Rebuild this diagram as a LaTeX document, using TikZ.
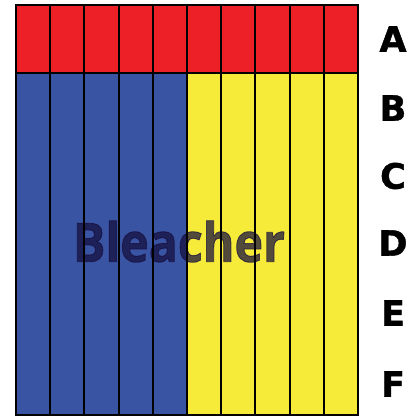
\documentclass[tikz,border=0pt]{standalone}
\usepackage{fontspec}
\setmainfont{DejaVu Sans}[BoldFeatures={FakeBold=1.2}]
\newfontfamily\bleachfont{Open Sans}[BoldFeatures={FakeBold=1.6}]
\definecolor{seatred}{RGB}{237,31,39}
\definecolor{seatblue}{RGB}{58,84,164}
\definecolor{seatyellow}{RGB}{246,235,56}
\definecolor{inkdark}{RGB}{20,12,60}
\begin{document}
\begin{tikzpicture}[x=1pt,y=1pt,
  cell/.style={draw=black,line width=2pt},
  rowlabel/.style={font=\fontsize{35}{35}\selectfont\bfseries,anchor=center}]
\useasboundingbox (0,0) rectangle (420,418);
% columns
\foreach \i in {0,...,9}{
  \pgfmathsetmacro{\xa}{16+34.2*\i}
  \pgfmathsetmacro{\xb}{16+34.2*(\i+1)}
  \fill[seatred] (\xa,345) rectangle (\xb,413);
  \ifnum\i<5
    \fill[seatblue] (\xa,3) rectangle (\xb,345);
  \else
    \fill[seatyellow] (\xa,3) rectangle (\xb,345);
  \fi
}
\node[text=inkdark,text opacity=0.72,inner sep=0] (title) at (179,176.5)
  {\resizebox{212pt}{41pt}{\bleachfont\bfseries Bleacher}};
\foreach \i in {1,...,9}{
  \pgfmathsetmacro{\xa}{16+34.2*\i}
  \draw[line width=2pt] (\xa,3) -- (\xa,413);
}
\draw[line width=2pt] (16,345) -- (358,345);
\draw[cell] (16,3) rectangle (358,413);
\node[rowlabel] (A) at (393,379) {A};
\node[rowlabel] (B) at (393,310) {B};
\node[rowlabel] (C) at (393,242) {C};
\node[rowlabel] (D) at (393,175) {D};
\node[rowlabel] (E) at (393,105) {E};
\node[rowlabel] (F) at (393,34) {F};
\end{tikzpicture}
\end{document}
